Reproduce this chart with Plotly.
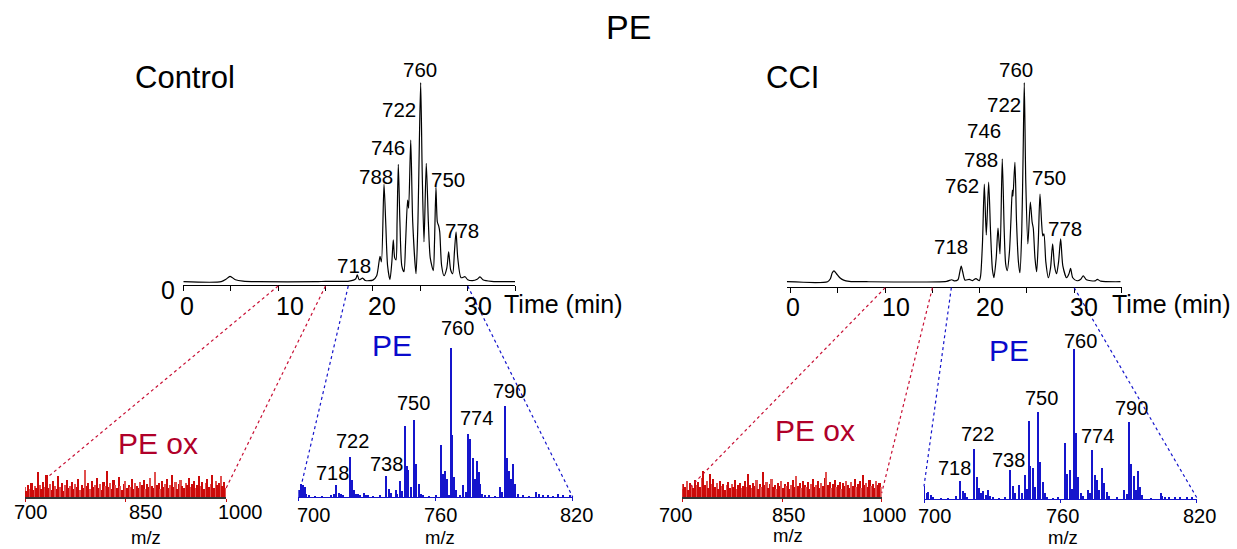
import plotly.graph_objects as go

W, H = 1237, 549
FONT = "Liberation Sans, Arial, sans-serif"

# ---------------- data ----------------
# Chromatograms (time in min, relative intensity)
ctrl_time = [0.0, 4.0, 4.5, 4.93, 5.5, 6.3, 8.0, 14.0, 15.0, 17.5, 18.2, 18.35, 18.55, 18.92, 19.2, 20.0,
             20.4, 20.75, 20.9, 21.17, 21.35, 21.55, 21.8, 22.0, 22.15, 22.3, 22.44, 22.55, 22.68, 22.85,
             23.05, 23.28, 23.45, 23.66, 23.77, 23.99, 24.2, 24.55, 24.75, 24.9, 25.04, 25.2, 25.39,
             25.63, 25.85, 26.05, 26.37, 26.5, 26.65, 26.8, 26.94, 27.05, 27.25, 27.5, 27.8, 27.99,
             28.2, 28.42, 28.6, 28.77, 28.95, 29.3, 29.72, 30.0, 30.5, 31.0, 31.3, 31.6, 32.5, 35.0]
ctrl_int = [0.0, 0.0, 0.012, 0.027, 0.01, 0.003, 0.0, 0.0, 0.002, 0.003, 0.015, 0.035, 0.01, 0.018, 0.006, 0.008,
            0.03, 0.127, 0.10, 0.49, 0.30, 0.08, 0.01, 0.10, 0.21, 0.12, 0.11, 0.30, 0.59, 0.30,
            0.08, 0.05, 0.20, 0.41, 0.37, 0.712, 0.30, 0.04, 0.30, 0.70, 1.0, 0.55, 0.20,
            0.595, 0.30, 0.12, 0.056, 0.20, 0.474, 0.30, 0.28, 0.25, 0.08, 0.03, 0.07, 0.15,
            0.06, 0.04, 0.15, 0.25, 0.12, 0.02, 0.025, 0.01, 0.005, 0.012, 0.024, 0.01, 0.002, 0.0]

cci_time = [-0.4, 3.9, 4.2, 4.4, 4.58, 4.85, 5.2, 5.6, 6.2, 8.0, 16.5, 17.04, 17.3, 17.7, 17.9, 18.05, 18.2,
            18.45, 18.9, 19.25, 19.6, 19.96, 20.1, 20.3, 20.49, 20.7, 20.95, 21.15, 21.35, 21.51, 21.75,
            21.94, 22.15, 22.39, 22.6, 22.75, 22.92, 23.15, 23.3, 23.45, 23.52, 23.73, 23.9, 24.1, 24.26,
            24.45, 24.6, 24.72, 24.88, 25.1, 25.36, 25.55, 25.67, 25.85, 26.03, 26.2, 26.38, 26.55, 26.68,
            26.8, 27.0, 27.27, 27.5, 27.72, 27.92, 28.14, 28.35, 28.57, 28.8, 29.2, 29.45, 29.62, 29.85,
            30.3, 30.7, 30.96, 31.3, 32.2, 32.45, 32.8, 34.9]
cci_int = [0.0, 0.0, 0.015, 0.045, 0.055, 0.04, 0.02, 0.008, 0.002, 0.0, 0.002, 0.01, 0.004, 0.01, 0.05, 0.079, 0.05,
           0.008, 0.012, 0.006, 0.016, 0.005, 0.03, 0.20, 0.49, 0.235, 0.50, 0.25, 0.06, 0.02, 0.12,
           0.27, 0.14, 0.617, 0.25, 0.09, 0.056, 0.15, 0.30, 0.46, 0.43, 0.60, 0.30, 0.10, 0.045,
           0.25, 0.65, 1.0, 0.50, 0.19, 0.40, 0.30, 0.27, 0.12, 0.05, 0.20, 0.44, 0.30, 0.23,
           0.24, 0.10, 0.02, 0.07, 0.19, 0.08, 0.04, 0.10, 0.215, 0.08, 0.02, 0.04, 0.067, 0.02,
           0.005, 0.012, 0.03, 0.01, 0.004, 0.012, 0.003, 0.0]

chrom_tickvals = [0, 5, 10, 15, 20, 25, 30, 35]
chrom_labelvals = [0, 10, 20, 30]
chrom_labels = ["0", "10", "20", "30"]

ctrl_peak_labels = ["760", "722", "746", "788", "750", "778", "718"]
ctrl_peak_label_t = [24.97, 22.70, 21.62, 20.36, 27.92, 29.45, 18.03]
ctrl_peak_label_i = [1.064, 0.863, 0.674, 0.531, 0.516, 0.256, 0.079]
cci_peak_labels = ["760", "722", "746", "788", "762", "750", "778", "718"]
cci_peak_label_t = [23.87, 22.54, 20.48, 20.16, 18.15, 27.31, 29.08, 17.0]
cci_peak_label_i = [1.068, 0.892, 0.758, 0.616, 0.482, 0.524, 0.267, 0.178]

# Oxidized PE spectra (m/z 700-1000, noise level intensities)
ox_mz_start, ox_mz_step = 700, 2.5
ctrl_ox_int = [10, 6, 12, 8, 14, 7, 11, 9, 25, 12,
               8, 15, 10, 22, 9, 13, 7, 16, 11, 8,
               21, 10, 14, 6, 12, 17, 9, 11, 15, 8,
               13, 10, 18, 7, 12, 9, 27, 11, 14, 8,
               16, 10, 12, 19, 9, 13, 7, 15, 11, 26,
               10, 14, 8, 17, 12, 9, 20, 11, 7, 13,
               16, 9, 12, 10, 18, 8, 14, 11, 9, 15,
               12, 17, 8, 13, 10, 19, 11, 9, 25, 12,
               14, 8, 16, 10, 13, 18, 9, 12, 22, 10,
               15, 8, 13, 17, 11, 9, 14, 12, 19, 10,
               13, 16, 9, 12, 21, 11, 15, 8, 14, 18,
               10, 13, 22, 9, 16, 12, 14, 21, 11, 15, 9]
cci_ox_int = [8, 13, 10, 16, 7, 14, 11, 9, 17, 12,
              15, 10, 19, 26, 12, 16, 9, 23, 13, 18,
              10, 14, 8, 16, 11, 13, 7, 12, 15, 9,
              13, 10, 17, 8, 12, 14, 9, 11, 16, 10,
              23, 12, 9, 14, 11, 17, 8, 13, 10, 25,
              12, 15, 9, 13, 18, 10, 12, 8, 14, 11,
              16, 9, 13, 11, 15, 8, 12, 17, 10, 21,
              11, 14, 9, 16, 12, 10, 15, 8, 13, 18,
              10, 12, 16, 9, 14, 11, 19, 25, 12, 15,
              9, 13, 17, 10, 12, 15, 8, 14, 11, 16,
              12, 9, 15, 11, 18, 10, 13, 16, 9, 22,
              12, 14, 10, 17, 11, 13, 9, 16, 12, 14, 10]
ox_tickvals = [700, 850, 1000]
ox_ticklabels = ["700", "850", "1000"]

# PE spectra (m/z, relative intensity %)
ctrl_pe_mz = [700.4, 701.5, 702.2, 702.9, 703.6, 704.8, 707.5, 710.6, 714.6, 715.7, 716.8, 717.8, 718.7, 719.7,
              722.6, 723.5, 724.6, 725.5, 726.4, 727.3, 728.7, 729.6, 730.6, 733.0,
              735.7, 738.6, 739.7, 740.8, 742.7, 743.5, 744.6, 745.6, 746.7, 747.7, 748.3, 749.4, 750.6,
              751.8, 752.8, 753.7, 754.7, 757.5,
              760.5, 762.4, 763.4, 764.5, 765.2, 766.1, 766.8, 767.5, 768.4, 769.3, 770.7,
              772.2, 773.6, 774.5, 775.4, 776.4, 777.3, 778.3, 779.2, 779.8, 780.6, 781.7,
              783.8, 786.0, 788.5, 789.4, 790.4, 791.4, 792.3, 793.2, 794.1, 794.9, 796.4, 798.4,
              801.0, 804.3, 805.4, 807.2, 809.4, 811.5, 813.7, 815.9, 818.8]
ctrl_pe_int = [4.9, 8.5, 7.9, 6.7, 2.2, 0.7, 0.6, 0.6, 0.9, 2.2, 7.9, 2.9, 2.2, 1.1,
               27, 11.7, 4.5, 1.8, 2.2, 0.7, 2.7, 1.1, 0.7, 0.6,
               0.7, 14.2, 5.6, 2.7, 4.9, 2.2, 10.6, 4.0, 47.6, 20.7, 18.0, 6.7, 52.1,
               22.5, 9.0, 2.2, 0.7, 0.6,
               0.7, 34.8, 15.3, 17.5, 12.4, 1.1, 100, 41.6, 13.5, 4.5, 0.7,
               7.9, 3.4, 42.7, 38.7, 26.5, 11.9, 24.3, 16.9, 9.0, 2.2, 0.7,
               0.7, 0.6, 6.7, 3.4, 61.3, 26.3, 17.3, 12.4, 22.0, 9.0, 2.2, 1.1,
               0.6, 3.4, 2.2, 1.1, 1.1, 0.6, 1.8, 0.7, 0.7]
cci_pe_mz = [700.0, 701.2, 702.0, 703.0, 704.1, 707.5, 710.8, 714.1, 716.1, 717.0, 717.9, 719.0,
             722.2, 723.2, 724.1, 725.1, 726.1, 727.3, 728.2, 729.0, 730.2, 733.0,
             735.6, 738.1, 739.0, 740.2, 742.0, 743.1, 744.3, 745.2, 746.2, 746.9, 748.1, 749.1, 750.2,
             751.2, 752.2, 753.2, 754.3, 757.0,
             759.1, 762.1, 763.1, 764.3, 765.3, 766.2, 767.0, 768.0, 769.1, 770.1,
             772.0, 773.0, 774.2, 775.3, 776.3, 777.2, 778.3, 779.2, 780.4, 781.6,
             784.8, 788.2, 789.2, 790.2, 791.2, 792.3, 793.3, 794.2, 795.1, 796.1,
             800.0, 804.2, 805.0, 806.1, 808.0, 810.5, 812.7, 815.6, 818.0]
cci_pe_int = [8.7, 3.8, 4.9, 2.7, 1.1, 0.6, 0.6, 2.0, 12.0, 5.6, 3.8, 1.6,
              33.2, 14.9, 7.1, 3.8, 5.6, 2.7, 6.0, 2.0, 1.1, 0.6,
              1.6, 19.4, 8.9, 4.2, 9.4, 3.8, 16.0, 6.5, 52.1, 22.0, 20.5, 8.2, 57.9,
              24.9, 11.1, 3.8, 1.1, 0.6,
              1.1, 37.6, 16.7, 19.4, 6.5, 100, 44.3, 14.5, 3.8, 2.0,
              6.0, 3.8, 32.7, 16.0, 12.7, 6.0, 20.5, 10.5, 4.9, 2.0,
              1.1, 6.0, 3.3, 51.7, 23.4, 15.4, 6.0, 18.9, 8.2, 2.7,
              0.6, 4.2, 2.0, 1.6, 1.1, 1.6, 1.1, 1.1, 0.8]
pe_tickvals = [700, 760, 820]
pe_ticklabels = ["700", "760", "820"]

spec_peak_labels = ["718", "722", "738", "750", "760", "774", "790"]
ctrl_spec_peak_mz = [716.8, 722.6, 738.6, 750.6, 766.8, 774.5, 790.4]
cci_spec_peak_mz = [716.1, 722.2, 738.1, 750.2, 766.2, 774.2, 790.2]

# ---------------- layout geometry (pixels) ----------------
AX = {
    "c_chrom": dict(xp=(183.3, 515.1), xr=(0, 35), yp=(285, 60), yr=(-0.0166, 1.114)),
    "i_chrom": dict(xp=(786.7, 1121.7), xr=(-0.423, 35.03), yp=(286.7, 60), yr=(-0.025, 1.114)),
    "c_ox": dict(xp=(25, 226), xr=(700, 1000), yp=(497, 440), yr=(0, 57)),
    "c_pe": dict(xp=(298.3, 572.7), xr=(700, 820), yp=(497, 340), yr=(0, 105.6)),
    "i_ox": dict(xp=(682.3, 881.7), xr=(700, 1000), yp=(497, 440), yr=(0, 57)),
    "i_pe": dict(xp=(924, 1196.7), xr=(700, 820), yp=(499, 340), yr=(0, 106.2)),
}
ORDER = ["c_chrom", "i_chrom", "c_ox", "c_pe", "i_ox", "i_pe"]
REF = {k: (("x" if i == 0 else f"x{i+1}"), ("y" if i == 0 else f"y{i+1}")) for i, k in enumerate(ORDER)}


def px2x(px):
    return px / W


def px2y(py):
    return 1 - py / H


def to_px_x(ax, v):
    a = AX[ax]
    return a["xp"][0] + (v - a["xr"][0]) / (a["xr"][1] - a["xr"][0]) * (a["xp"][1] - a["xp"][0])


def to_px_y(ax, v):
    a = AX[ax]
    return a["yp"][0] + (v - a["yr"][0]) / (a["yr"][1] - a["yr"][0]) * (a["yp"][1] - a["yp"][0])


RED = "#cc0a0a"
DARKRED = "#b0002a"
BLUE = "#1515cc"
TXTBLUE = "#0a0acc"

fig = go.Figure()

# chromatograms
for ax, t, y in [("c_chrom", ctrl_time, ctrl_int), ("i_chrom", cci_time, cci_int)]:
    xr, yr = REF[ax]
    fig.add_trace(go.Scatter(x=t, y=y, mode="lines", xaxis=xr, yaxis=yr,
                             line=dict(color="black", width=1.2, shape="spline", smoothing=0.7),
                             hoverinfo="skip"))

# oxidized PE noise spectra
for ax, vals in [("c_ox", ctrl_ox_int), ("i_ox", cci_ox_int)]:
    xr, yr = REF[ax]
    mz = [ox_mz_start + ox_mz_step * i for i in range(len(vals))]
    cols = [RED if i % 3 else "#e0504f" for i in range(len(vals))]
    fig.add_trace(go.Bar(x=mz, y=vals, width=ox_mz_step * 0.95, xaxis=xr, yaxis=yr,
                         marker=dict(color=cols, line=dict(width=0)), hoverinfo="skip"))

# PE spectra
for ax, mz, vals in [("c_pe", ctrl_pe_mz, ctrl_pe_int), ("i_pe", cci_pe_mz, cci_pe_int)]:
    xr, yr = REF[ax]
    fig.add_trace(go.Bar(x=mz, y=vals, width=0.55, xaxis=xr, yaxis=yr,
                         marker=dict(color=BLUE, line=dict(width=0)), hoverinfo="skip"))

layout = dict(width=W, height=H, margin=dict(l=0, r=0, t=0, b=0),
              paper_bgcolor="white", plot_bgcolor="white", showlegend=False,
              bargap=0, font=dict(family=FONT, color="black"))

for i, k in enumerate(ORDER):
    a = AX[k]
    xname = "xaxis" if i == 0 else f"xaxis{i+1}"
    yname = "yaxis" if i == 0 else f"yaxis{i+1}"
    xr, yr = REF[k]
    if "chrom" in k:
        xax = dict(tickvals=chrom_tickvals, ticks="outside", ticklen=5, tickwidth=1.2,
                   tickcolor="black", showticklabels=False, linecolor="black", linewidth=1.3)
    elif "ox" in k:
        xax = dict(tickvals=ox_tickvals, ticks="outside", ticklen=3, tickwidth=1.2,
                   tickcolor=RED, showticklabels=False, linecolor="#333333", linewidth=1.5)
    else:
        xax = dict(tickvals=pe_tickvals, ticks="outside", ticklen=3, tickwidth=1.2,
                   tickcolor=BLUE, showticklabels=False, linecolor=BLUE, linewidth=1.3)
    xax.update(domain=[px2x(a["xp"][0]), px2x(a["xp"][1])], range=list(a["xr"]),
               anchor=yr, showgrid=False, zeroline=False, showline=True, fixedrange=True)
    yax = dict(domain=[px2y(a["yp"][0]), px2y(a["yp"][1])], range=list(a["yr"]),
               anchor=xr, showgrid=False, zeroline=False, showline=False,
               showticklabels=False, ticks="", fixedrange=True)
    layout[xname] = xax
    layout[yname] = yax

fig.update_layout(**layout)

ann = []


def text(x, y, s, size, color="black", xanchor="center", **kw):
    ann.append(dict(x=x, y=y, text=s, showarrow=False, xanchor=xanchor, yanchor="middle",
                    font=dict(family=FONT, size=size, color=color), **kw))


# titles
text(px2x(628), px2y(27), "PE", 34, xref="paper", yref="paper")
text(px2x(185), px2y(77), "Control", 31, xref="paper", yref="paper")
text(px2x(793), px2y(77), "CCI", 31, xref="paper", yref="paper")

# chromatogram tick labels
for ax, shifts, ypx in [("c_chrom", [4, 11.5, 9, 10], 306), ("i_chrom", [2, 10.7, 10, 10], 307)]:
    xr, yr = REF[ax]
    for v, s, sh in zip(chrom_labelvals, chrom_labels, shifts):
        text(v, px2y(ypx), s, 25, xref=xr, yref="paper", xshift=sh)
text(px2x(502), px2y(304), "Time (min)", 25, xanchor="left", xref="paper", yref="paper")
text(px2x(1110), px2y(304), "Time (min)", 25, xanchor="left", xref="paper", yref="paper")
text(px2x(168), px2y(290), "0", 25, xref="paper", yref="paper")

# chromatogram peak labels
for ax, labs, ts, ys in [("c_chrom", ctrl_peak_labels, ctrl_peak_label_t, ctrl_peak_label_i),
                         ("i_chrom", cci_peak_labels, cci_peak_label_t, cci_peak_label_i)]:
    xr, yr = REF[ax]
    for s, t, y in zip(labs, ts, ys):
        text(t, y, s, 20.5, xref=xr, yref=yr)

# spectrum tick labels and m/z
spec_tick_cfg = [
    ("c_ox", ox_tickvals, ox_ticklabels, [5, 19.5, 14.5], 512, 146, 537),
    ("c_pe", pe_tickvals, pe_ticklabels, [15, 5, 3.5], 515, 440, 537),
    ("i_ox", ox_tickvals, ox_ticklabels, [-7, 6.5, 3], 515, 788, 535),
    ("i_pe", pe_tickvals, pe_ticklabels, [10.5, 2, 2.3], 516, 1063, 537),
]
for ax, vals, labs, shifts, ypx, mzx, mzy in spec_tick_cfg:
    xr, yr = REF[ax]
    for v, s, sh in zip(vals, labs, shifts):
        text(v, px2y(ypx), s, 20, xref=xr, yref="paper", xshift=sh)
    text(px2x(mzx), px2y(mzy), "m/z", 18.5, xref="paper", yref="paper")

# spectrum class labels
text(px2x(157.5), px2y(443), "PE ox", 30, color=DARKRED, xref="paper", yref="paper")
text(px2x(815), px2y(430.5), "PE ox", 30, color=DARKRED, xref="paper", yref="paper")
text(px2x(391.7), px2y(345.8), "PE", 30, color=TXTBLUE, xref="paper", yref="paper")
text(px2x(1008.7), px2y(350.3), "PE", 30, color=TXTBLUE, xref="paper", yref="paper")

# spectrum peak labels (anchored to peaks)
ctrl_lab_off = [(-4, 12.2), (3, 15.5), (-0.5, 11.5), (-1, 16.3), (6, 20), (8, 15.3), (4, 15)]
cci_lab_off = [(-6, 13.5), (3, 15.5), (-2, 10.3), (3, 14.3), (6, 8), (5, 13.8), (3, 13.4)]
for ax, mzs, peakmz, peakint, offs in [("c_pe", ctrl_spec_peak_mz, ctrl_pe_mz, ctrl_pe_int, ctrl_lab_off),
                                       ("i_pe", cci_spec_peak_mz, cci_pe_mz, cci_pe_int, cci_lab_off)]:
    xr, yr = REF[ax]
    for s, m, (dx, dy) in zip(spec_peak_labels, mzs, offs):
        y = peakint[peakmz.index(m)]
        text(m, y, s, 20, xref=xr, yref=yr, xshift=dx, yshift=dy)

# connecting dotted lines: (chrom axis, time, target axis, m/z, intensity, colour)
links = [
    ("c_chrom", 10, "c_ox", 734, 20, "#c81035"),
    ("c_chrom", 15, "c_ox", 1000, 8.7, "#c81035"),
    ("c_chrom", 17.4, "c_pe", 700.5, 2.7, BLUE),
    ("c_chrom", 30, "c_pe", 820, 0, BLUE),
    ("i_chrom", 10, "i_ox", 712, 10, "#c81035"),
    ("i_chrom", 15, "i_ox", 1000, 4, "#c81035"),
    ("i_chrom", 17, "i_pe", 700, 8.5, BLUE),
    ("i_chrom", 30, "i_pe", 820, 1, BLUE),
]
shapes = []
for cax, t, sax, m, iv, col in links:
    x0 = px2x(to_px_x(cax, t))
    y0 = px2y(AX[cax]["yp"][0] + 1)
    x1 = px2x(to_px_x(sax, m))
    y1 = px2y(to_px_y(sax, iv))
    shapes.append(dict(type="line", xref="paper", yref="paper", x0=x0, y0=y0, x1=x1, y1=y1,
                       line=dict(color=col, width=1.2, dash="dot")))

fig.update_layout(annotations=ann, shapes=shapes)
fig.write_html("out.html", config={"displayModeBar": False},
               post_script="document.body.style.margin='0';document.body.style.overflow='hidden';")
